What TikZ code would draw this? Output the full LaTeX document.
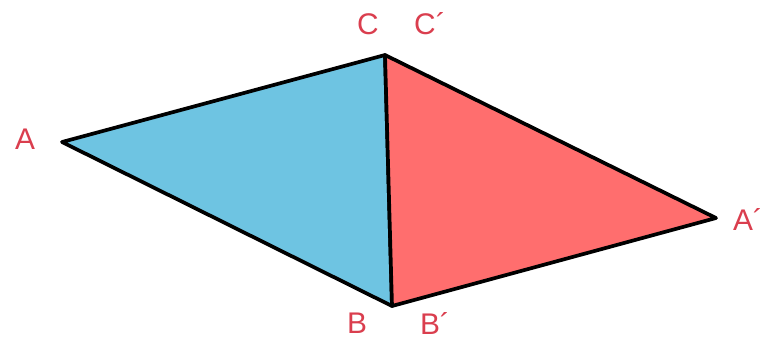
\documentclass[tikz,border=0pt]{standalone}
\usepackage{fontspec}
\setmainfont{Liberation Sans}
\definecolor{vertred}{RGB}{218,62,78}
\definecolor{leftblue}{RGB}{110,196,226}
\definecolor{rightred}{RGB}{255,110,110}
\tikzset{
  edge/.style={
    draw = black,
    line width = 2.1pt,
    line join = round
  },
  vlabel/.style={
    text = vertred,
    inner sep = 0pt,
    font = \fontsize{17}{20}\selectfont
  }
}
\begin{document}
\begin{tikzpicture}[x=0.02cm,y=-0.02cm]
            \useasboundingbox (0,0) rectangle (761,343);
            \coordinate (A) at (62,142);
            \coordinate (C) at (385,55);
            \coordinate (B) at (392,306);
            \coordinate (A2) at (716,218);
            \filldraw[edge,fill=leftblue] (A) -- (C) -- (B) -- cycle;
            \filldraw[edge,fill=rightred] (C) -- (A2) -- (B) -- cycle;
            \node[vlabel] (la) at (25,139) {A};
            \node[vlabel] (lc) at (368,24) {C};
            \node[vlabel] (lc2) at (430,24) {C´};
            \node[vlabel] (lb) at (357,323) {B};
            \node[vlabel] (lb2) at (435,323) {B´};
            \node[vlabel] (la2) at (748,219) {A´};
        \end{tikzpicture}
\end{document}
